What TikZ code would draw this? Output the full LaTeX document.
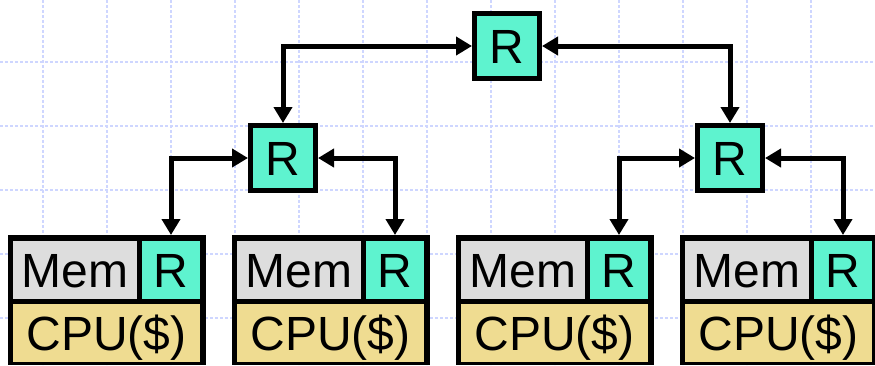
\documentclass[tikz,border=0pt]{standalone}
\usepackage{fontspec}
\setmainfont{Liberation Sans}
\usetikzlibrary{arrows.meta}
\definecolor{gridblue}{RGB}{206,214,255}
\definecolor{rteal}{RGB}{94,243,207}
\definecolor{memgray}{RGB}{221,221,221}
\definecolor{cpuyellow}{RGB}{239,220,145}
\tikzset{
  gridline/.style={draw=gridblue, line width=1.2pt, dash pattern=on 2.5pt off 2.5pt},
  bigfont/.style={font=\fontsize{48pt}{52pt}\selectfont, text height=34pt, text depth=0pt},
  router/.style={draw=black, line width=5pt, fill=rteal, minimum width=65pt, minimum height=65pt, inner sep=0pt, bigfont},
  link/.style={line width=5pt, {Triangle[length=16pt,width=18pt]}-{Triangle[length=16pt,width=18pt]}},
  leafbox/.style={fill=black, minimum width=198pt, minimum height=130pt, inner sep=0pt, outer sep=0pt, anchor=north west},
  cell/.style={minimum height=58pt, inner sep=0pt, outer sep=0pt, anchor=north west, bigfont},
  memcell/.style={cell, fill=memgray, minimum width=124pt},
  rcell/.style={cell, fill=rteal, minimum width=58pt},
  cpucell/.style={cell, fill=cpuyellow, minimum width=187pt},
}
\begin{document}
\begin{tikzpicture}[x=1pt, y=-1pt]
\useasboundingbox (0,0) rectangle (875,365);
\clip (0,0) rectangle (875,365);
% background grid
\foreach \gx in {43,107,...,811} \draw[gridline] (\gx,0) -- (\gx,365);
\foreach \gy in {62,126,...,318} \draw[gridline] (0,\gy) -- (875,\gy);
% routers
\node[router] (top) at (507,46) {R};
\node[router] (midL) at (283,158) {R};
\node[router] (midR) at (730,158) {R};
% leaves
\foreach \i/\x in {1/8, 2/232, 3/456, 4/680} {
  \node[leafbox] (leaf\i) at (\x,235) {};
  \node[memcell] (mem\i) at (\x+5,241) {Mem};
  \node[rcell] (r\i) at (\x+134,241) {R};
  \node[cpucell] (cpu\i) at (\x+5,304) {CPU(\$)};
}
% links
\draw[link] (top.west) -| (midL.north);
\draw[link] (top.east) -| (midR.north);
\draw[link] (midL.west) -| (r1.north |- leaf1.north);
\draw[link] (midL.east) -| (r2.north |- leaf2.north);
\draw[link] (midR.west) -| (r3.north |- leaf3.north);
\draw[link] (midR.east) -| (r4.north |- leaf4.north);
\end{tikzpicture}
\end{document}
